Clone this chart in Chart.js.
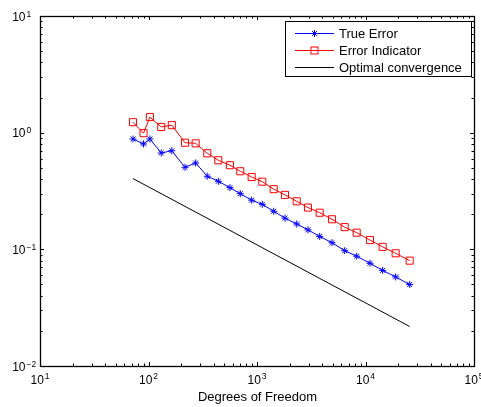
<!DOCTYPE html>
<html>
<head>
<meta charset="utf-8">
<script src="https://cdn.jsdelivr.net/npm/chart.js@4"></script>
<style>
  html, body { margin: 0; padding: 0; background: #fff; }
  #wrap { width: 481px; height: 407px; }
</style>
</head>
<body>
<div id="wrap"><canvas id="chart"></canvas></div>
<script>
const dof = [72, 90, 103, 131, 164, 217, 272, 348, 440, 563, 701, 893, 1119, 1425, 1811, 2322, 2951, 3783, 4912, 6427, 8294, 10995, 14389, 18966, 25530];
const trueError = [0.883, 0.80, 0.883, 0.67, 0.70, 0.505, 0.55, 0.423, 0.383, 0.338, 0.300, 0.264, 0.243, 0.212, 0.185, 0.165, 0.147, 0.129, 0.114, 0.0974, 0.0873, 0.076, 0.066, 0.058, 0.0499];
const errorIndicator = [1.23, 0.99, 1.36, 1.12, 1.16, 0.82, 0.81, 0.666, 0.58, 0.526, 0.467, 0.417, 0.380, 0.328, 0.293, 0.258, 0.228, 0.206, 0.181, 0.155, 0.139, 0.120, 0.105, 0.0925, 0.080];
const optimalX = [72, 25530];
const optimalY = [0.404, 0.0218];
const xDecades = [1, 2, 3, 4, 5];
const yDecades = [-2, -1, 0, 1];
const legendLabels = ['True Error', 'Error Indicator', 'Optimal convergence'];

const FONT = '"Liberation Sans", Arial, Helvetica, sans-serif';

const toPts = (xs, ys) => xs.map((x, i) => ({ x: x, y: ys[i] }));

// axes frame, MATLAB-like inner ticks, superscript labels, legend
const matlabAxes = {
    id: 'matlabAxes',
    afterDraw(chart) {
        const ctx = chart.ctx;
        const a = chart.chartArea;
        const xs = chart.scales.x, ys = chart.scales.y;
        ctx.save();
        ctx.strokeStyle = '#000';
        ctx.lineWidth = 1;

        // ticks
        ctx.beginPath();
        for (let d = 1; d <= 5; d++) {
            for (let m = 1; m <= 9; m++) {
                if (d === 5 && m > 1) break;
                const px = Math.round(xs.getPixelForValue(m * Math.pow(10, d))) + 0.5;
                const len = m === 1 ? 4 : 2.5;
                ctx.moveTo(px, a.bottom); ctx.lineTo(px, a.bottom - len);
                ctx.moveTo(px, a.top); ctx.lineTo(px, a.top + len);
            }
        }
        for (let d = -2; d <= 1; d++) {
            for (let m = 1; m <= 9; m++) {
                if (d === 1 && m > 1) break;
                const py = Math.round(ys.getPixelForValue(m * Math.pow(10, d))) + 0.5;
                const len = m === 1 ? 4 : 2.5;
                ctx.moveTo(a.left, py); ctx.lineTo(a.left + len, py);
                ctx.moveTo(a.right, py); ctx.lineTo(a.right - len, py);
            }
        }
        ctx.stroke();

        // frame
        ctx.lineWidth = 1.3;
        ctx.strokeRect(Math.round(a.left) + 0.5, Math.round(a.top) + 0.5,
            Math.round(a.right - a.left), Math.round(a.bottom - a.top));

        // tick labels
        ctx.fillStyle = '#000';
        ctx.textBaseline = 'alphabetic';
        const big = '12px ' + FONT, small = '8.5px ' + FONT;
        xDecades.forEach(e => {
            const px = xs.getPixelForValue(Math.pow(10, e));
            const exp = e < 0 ? '\u2212' + (-e) : String(e);
            ctx.font = big; const w1 = ctx.measureText('10').width;
            ctx.font = small; const w2 = ctx.measureText(exp).width;
            const x0 = px - (w1 + w2 + 1) / 2;
            ctx.font = big; ctx.textAlign = 'left';
            ctx.fillText('10', x0, a.bottom + 18);
            ctx.font = small;
            ctx.fillText(exp, x0 + w1 + 1, a.bottom + 12.5);
        });
        yDecades.forEach(e => {
            const py = ys.getPixelForValue(Math.pow(10, e));
            const exp = e < 0 ? '\u2212' + (-e) : String(e);
            ctx.font = big; ctx.textAlign = 'right';
            ctx.fillText('10', 25.5, py + 4.7);
            ctx.font = small; ctx.textAlign = 'left';
            ctx.fillText(exp, 26.5, py + 0.5);
        });

        // x axis title
        ctx.font = '13px ' + FONT;
        ctx.textAlign = 'center';
        ctx.fillText('Degrees of Freedom', (a.left + a.right) / 2 + 0.5, 401);

        // legend
        const lx = 285, ly = 21, lw = 186, lh = 55;
        ctx.fillStyle = '#fff';
        ctx.fillRect(lx, ly, lw, lh);
        ctx.lineWidth = 1;
        ctx.strokeRect(lx + 0.5, ly + 0.5, lw, lh);
        const colors = ['#0000ff', '#ff0000', '#000000'];
        legendLabels.forEach((lab, i) => {
            const cy = Math.round(ly + 12 + i * 17) + 0.5;
            ctx.strokeStyle = colors[i];
            ctx.lineWidth = 1;
            ctx.beginPath();
            ctx.moveTo(295, cy); ctx.lineTo(334, cy);
            ctx.stroke();
            const mx = 314.5;
            if (i === 0) {
                ctx.beginPath();
                const r = 3.5, o = r * Math.SQRT1_2;
                ctx.moveTo(mx - r, cy); ctx.lineTo(mx + r, cy);
                ctx.moveTo(mx, cy - r); ctx.lineTo(mx, cy + r);
                ctx.moveTo(mx - o, cy - o); ctx.lineTo(mx + o, cy + o);
                ctx.moveTo(mx - o, cy + o); ctx.lineTo(mx + o, cy - o);
                ctx.stroke();
            } else if (i === 1) {
                ctx.strokeRect(mx - 3.5, cy - 3.5, 7, 7);
            }
            ctx.fillStyle = '#000';
            ctx.font = '13px ' + FONT;
            ctx.textAlign = 'left';
            ctx.fillText(lab, 339, cy + 4.7);
        });
        ctx.restore();
    }
};

new Chart(document.getElementById('chart'), {
    type: 'line',
    data: {
        datasets: [
            {
                label: legendLabels[0],
                data: toPts(dof, trueError),
                borderColor: '#0000ff',
                backgroundColor: '#0000ff',
                borderWidth: 1,
                pointStyle: 'star',
                pointRadius: 3.5,
                pointBorderWidth: 1,
                pointBorderColor: '#0000ff'
            },
            {
                label: legendLabels[1],
                data: toPts(dof, errorIndicator),
                borderColor: '#ff0000',
                backgroundColor: 'rgba(0,0,0,0)',
                borderWidth: 1,
                pointStyle: 'rect',
                pointRadius: 5,
                pointBorderWidth: 1,
                pointBorderColor: '#ff0000'
            },
            {
                label: legendLabels[2],
                data: toPts(optimalX, optimalY),
                borderColor: '#000000',
                borderWidth: 1,
                pointRadius: 0
            }
        ]
    },
    options: {
        responsive: true,
        maintainAspectRatio: false,
        animation: false,
        layout: { padding: { left: 0, top: 16, right: 7, bottom: 0 } },
        plugins: { legend: { display: false }, tooltip: { enabled: false } },
        scales: {
            x: {
                type: 'logarithmic', min: 10, max: 100000,
                grid: { display: false }, border: { display: false },
                ticks: { display: false },
                afterFit: s => { s.height = 41; }
            },
            y: {
                type: 'logarithmic', min: 0.01, max: 10,
                grid: { display: false }, border: { display: false },
                ticks: { display: false },
                afterFit: s => { s.width = 40; }
            }
        }
    },
    plugins: [matlabAxes]
});
</script>
</body>
</html>
